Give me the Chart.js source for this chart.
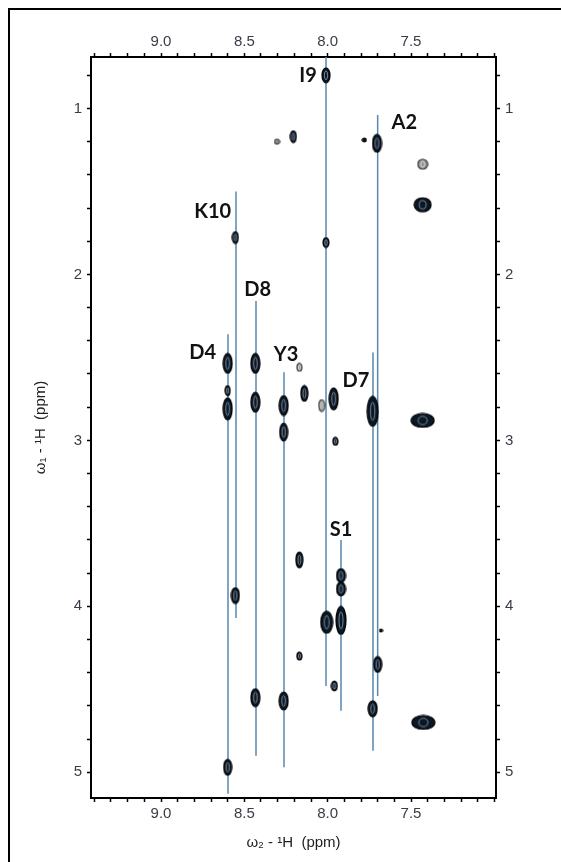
<!DOCTYPE html>
<html>
<head>
<meta charset="utf-8">
<script src="https://cdn.jsdelivr.net/npm/chart.js@4.4.1/dist/chart.umd.min.js"></script>
<style>
  html, body { margin: 0; padding: 0; background: #fff; }
  #wrap { position: relative; width: 561px; height: 862px; overflow: hidden; }
  #frame { position: absolute; left: 8px; top: 8px; width: 600px; height: 900px; border: 2px solid #000; box-sizing: border-box; }
  canvas { position: absolute; left: 0; top: 0; }
</style>
</head>
<body>
<div id="wrap">
  <div id="frame"></div>
  <canvas id="tocsy" width="561" height="862"></canvas>
</div>
<script>
// ================= DATA =================

// cross peaks, ppm (w2 = amide 1H, w1 = side-chain 1H)
const peakW2 = [8.010, 8.206, 8.304, 7.704, 7.780, 7.430, 7.430, 8.554, 8.010,
                8.600, 8.600, 8.600, 8.434, 8.434, 8.264, 8.264, 8.170, 8.140,
                8.036, 7.964, 7.954, 7.730, 7.430, 7.920, 7.920, 7.920, 8.006,
                7.960, 7.700, 7.680, 7.730, 7.426, 8.170, 8.170, 8.554, 8.434,
                8.264, 8.600];
const peakW1 = [0.800, 1.170, 1.200, 1.210, 1.190, 1.336, 1.580, 1.778, 1.808,
                2.536, 2.700, 2.810, 2.536, 2.770, 2.790, 2.950, 2.560, 2.717,
                2.790, 2.750, 3.006, 2.825, 2.880, 3.815, 3.895, 4.085, 4.096,
                4.480, 4.350, 4.146, 4.617, 4.700, 3.720, 4.300, 3.935, 4.550,
                4.570, 4.970];

// spin-system strips
const stripNames = ['D4', 'K10', 'D8', 'Y3', 'I9', 'S1', 'D7', 'A2'];
const stripW2 = [8.598, 8.550, 8.430, 8.262, 8.010, 7.920, 7.728, 7.700];
const stripFrom = [2.36, 1.50, 2.16, 2.59, 0.69, 3.60, 2.47, 1.04];
const stripTo = [5.13, 4.07, 4.90, 4.97, 4.48, 4.63, 4.87, 4.54];
const labelW2 = [8.750, 8.690, 8.420, 8.250, 8.118, 7.920, 7.830, 7.540];
const labelW1 = [2.47, 1.62, 2.09, 2.48, 0.80, 3.54, 2.64, 1.085];

// axes
const w2Range = [6.99, 9.42];
const w1Range = [0.69, 5.155];
const w2Labels = [9.0, 8.5, 8.0, 7.5];
const w1Labels = [1, 2, 3, 4, 5];

// ================= PEAK LOOK =================

// contour blob size in px [w, h] and tone, one per peak
const peakShape = [[8,15],[6,12],[5,5],[9,18],[4,4],[10,10],[17,14],[6,12],[6,10],
                   [9,20],[5,10],[9,22],[9,20],[9,20],[9,20],[8,18],[5,8],[7,16],
                   [6,12],[9,22],[5,8],[11,30],[23,14],[9,14],[9,14],[10,28],[12,22],
                   [6,10],[8,16],[3,3],[9,16],[23,14],[7,16],[5,8],[8,16],[9,18],
                   [9,18],[8,16]];
const grayPeaks = [2, 5, 16, 18];

function makePeakSprite(w, h, gray) {
    const c = document.createElement('canvas');
    c.width = w + 2;
    c.height = h + 2;
    const g = c.getContext('2d');
    const cx = c.width / 2, cy = c.height / 2;

    g.beginPath();
    g.ellipse(cx, cy, w / 2, h / 2, 0, 0, Math.PI * 2);
    g.fillStyle = gray ? '#8f8f8f' : '#0c1724';
    g.fill();
    g.lineWidth = 1.2;
    g.strokeStyle = gray ? '#404040' : '#000';
    g.stroke();

    if (w >= 5 && h >= 7) {
        g.beginPath();
        g.ellipse(cx, cy, Math.max(1, w * 0.2), h * 0.3, 0, 0, Math.PI * 2);
        g.lineWidth = 1;
        g.strokeStyle = gray ? '#e2e2e2' : 'rgba(135,155,180,0.85)';
        g.stroke();
    }
    return c;
}

const sprites = peakShape.map(([w, h], i) => makePeakSprite(w, h, grayPeaks.includes(i)));

// ================= SCALES =================

function ppmTicks(range, step) {
    const t = [];
    for (let k = Math.ceil(range[0] / step - 1e-6); k * step <= range[1] + 1e-6; k++) {
        t.push({ value: +(k * step).toFixed(2) });
    }
    return t;
}

const tickFont = { family: '"Liberation Sans", Arial, sans-serif', size: 15 };
const titleFont = { family: '"Liberation Sans", Arial, sans-serif', size: 15 };

function makeAxis(position, range, step, labels, digits, pad) {
    const horizontal = position === 'top' || position === 'bottom';
    return {
        type: 'linear',
        position: position,
        reverse: true,
        min: range[0],
        max: range[1],
        border: { display: true, color: '#000', width: 2 },
        grid: { drawOnChartArea: false, drawTicks: true, tickLength: 4, tickColor: '#000', tickWidth: 1.5 },
        afterBuildTicks: scale => { scale.ticks = ppmTicks(range, step); },
        afterFit: scale => {
            if (horizontal) scale.height = position === 'top' ? 57 : 64;
            else scale.width = position === 'left' ? 91 : 65;
        },
        ticks: {
            autoSkip: false,
            maxRotation: 0,
            padding: pad,
            color: '#3b3b47',
            font: tickFont,
            callback: v => labels.some(l => Math.abs(l - v) < 1e-6) ? v.toFixed(digits) : ''
        }
    };
}

const scales = {
    x: makeAxis('bottom', w2Range, 0.1, w2Labels, 1, 3),
    x2: makeAxis('top', w2Range, 0.1, w2Labels, 1, 2),
    y: makeAxis('left', w1Range, 0.2, w1Labels, 0, 5),
    y2: makeAxis('right', w1Range, 0.2, w1Labels, 0, 5)
};

scales.x.title = {
    display: true,
    text: 'ω₂ - ¹H  (ppm)',
    color: '#222',
    font: titleFont,
    padding: { top: 0, bottom: 10 }
};
scales.y.title = {
    display: true,
    text: 'ω₁ - ¹H  (ppm)',
    color: '#222',
    font: titleFont,
    padding: { top: 32, bottom: 0 }
};

// ================= STRIP LABELS =================

const stripLabels = {
    id: 'stripLabels',
    afterDatasetsDraw(chart) {
        const { ctx } = chart;
        const sx = chart.scales.x, sy = chart.scales.y;
        ctx.save();
        ctx.font = 'bold 20px Lato, "Liberation Sans", sans-serif';
        ctx.fillStyle = '#111';
        ctx.textAlign = 'center';
        ctx.textBaseline = 'middle';
        stripNames.forEach((name, i) => {
            ctx.fillText(name, sx.getPixelForValue(labelW2[i]), sy.getPixelForValue(labelW1[i]));
        });
        ctx.restore();
    }
};

// ================= CHART =================

const stripSets = stripNames.map((name, i) => ({
    type: 'line',
    label: name,
    data: [{ x: stripW2[i], y: stripFrom[i] }, { x: stripW2[i], y: stripTo[i] }],
    borderColor: '#5a86b0',
    borderWidth: 1.5,
    pointRadius: 0,
    order: 1
}));

const peakSet = {
    type: 'scatter',
    label: 'peaks',
    data: peakW2.map((x, i) => ({ x: x, y: peakW1[i] })),
    pointStyle: ctx => sprites[ctx.dataIndex],
    pointRadius: 4,
    order: 0
};

new Chart(document.getElementById('tocsy'), {
    type: 'scatter',
    data: { datasets: [peakSet, ...stripSets] },
    options: {
        responsive: false,
        animation: false,
        events: [],
        layout: { padding: 0 },
        plugins: { legend: { display: false }, tooltip: { enabled: false } },
        scales: scales
    },
    plugins: [stripLabels]
});
</script>
</body>
</html>
